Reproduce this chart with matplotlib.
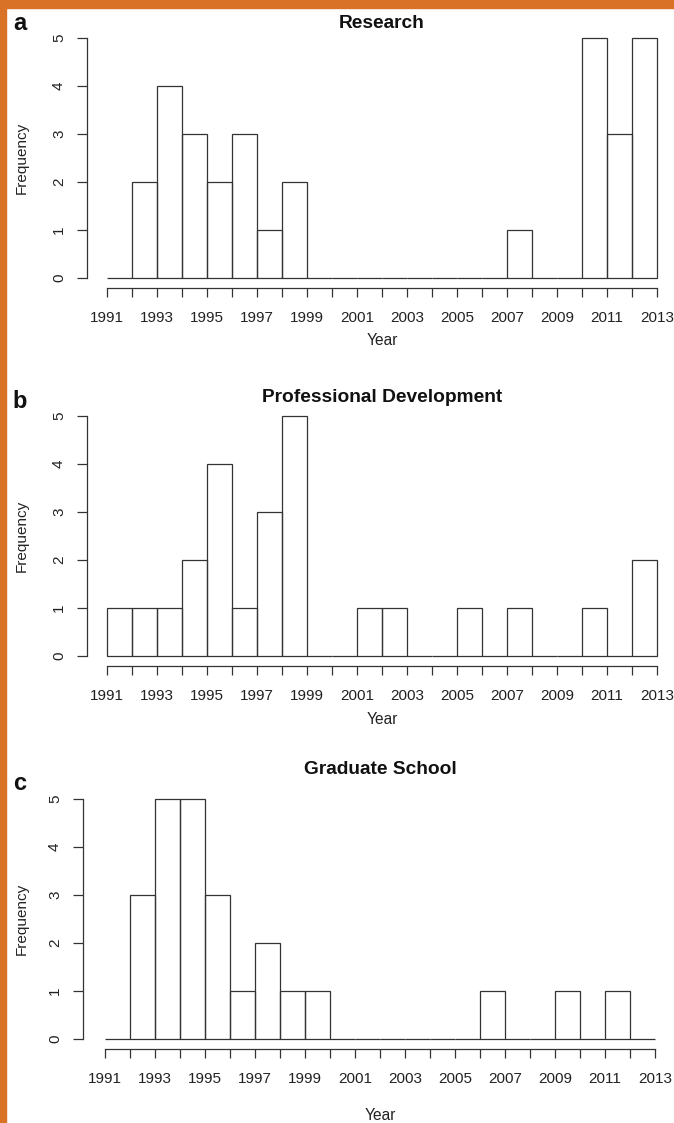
import numpy as np
import matplotlib
matplotlib.use('Agg')
import matplotlib.pyplot as plt
import matplotlib.patches as mpatches

# yearly counts, one bin per year from 1991 to 2013
edges = np.arange(1991, 2014)
research = [0, 2, 4, 3, 2, 3, 1, 2, 0, 0, 0, 0, 0, 0, 0, 0, 1, 0, 0, 5, 3, 5]
prof_dev = [1, 1, 1, 2, 4, 1, 3, 5, 0, 0, 1, 1, 0, 0, 1, 0, 1, 0, 0, 1, 0, 2]
grad_school = [0, 3, 5, 5, 3, 1, 2, 1, 1, 0, 0, 0, 0, 0, 0, 1, 0, 0, 1, 0, 1, 0]

titles = ['Research', 'Professional Development', 'Graduate School']
letters = ['a', 'b', 'c']
y_ticks = [0, 1, 2, 3, 4, 5]

W, H = 674, 1123
DPI = 100
FONT = ['Liberation Sans', 'DejaVu Sans']
LINE = '#333333'

def px2pt(p):
    return p * 72.0 / DPI

fig = plt.figure(figsize=(W / DPI, H / DPI), dpi=DPI)
fig.patch.set_facecolor('white')

# orange frame on the top and left edges
fig.patches.append(mpatches.Rectangle((0, 1 - 8 / H), 1, 8 / H, transform=fig.transFigure,
                                      color='#d97127', zorder=0))
fig.patches.append(mpatches.Rectangle((0, 0), 6 / W, 1, transform=fig.transFigure,
                                      color='#d97127', zorder=0))

# pixel layout of each panel: x of 1991, x of 2013, y of 0, y of 5, y-axis gap,
# title y, letter y, Year label y, Frequency label y
panels = [
    dict(x0=107, x1=657, y0=278, y5=38, ygap=20, ty=23, ly=24, xl=340, fy=158),
    dict(x0=107, x1=657, y0=656, y5=416, ygap=20, ty=398, ly=401, xl=720, fy=536),
    dict(x0=105, x1=655, y0=1039, y5=799, ygap=22, ty=770, ly=783, xl=1115, fy=919),
]
data = [research, prof_dev, grad_school]

for p, counts, title, letter in zip(panels, data, titles, letters):
    ax = fig.add_axes([p['x0'] / W, 1 - p['y0'] / H,
                       (p['x1'] - p['x0']) / W, (p['y0'] - p['y5']) / H])
    ax.set_xlim(edges[0], edges[-1])
    ax.set_ylim(0, 5)
    ax.patch.set_alpha(0)

    ax.bar(edges[:-1], counts, width=1, align='edge', fill=False,
           edgecolor=LINE, linewidth=0.9, clip_on=False)

    for s in ['top', 'right']:
        ax.spines[s].set_visible(False)
    ax.spines['left'].set_position(('outward', px2pt(p['ygap'])))
    ax.spines['left'].set_bounds(0, 5)
    ax.spines['bottom'].set_position(('outward', px2pt(10)))
    ax.spines['bottom'].set_bounds(edges[0], edges[-1])
    for s in ['left', 'bottom']:
        ax.spines[s].set_color(LINE)
        ax.spines[s].set_linewidth(0.9)

    ax.set_xticks(edges)
    ax.set_xticklabels([str(y) if (y - 1991) % 2 == 0 else '' for y in edges])
    ax.set_yticks(y_ticks)
    ax.tick_params(axis='x', length=px2pt(9), width=0.9, color=LINE, pad=px2pt(14),
                   labelsize=11, labelcolor='#222222')
    ax.tick_params(axis='y', length=px2pt(10), width=0.9, color=LINE, pad=px2pt(11),
                   labelsize=11, labelcolor='#222222', labelrotation=90)
    for lab in ax.get_xticklabels():
        lab.set_family(FONT)
    for lab in ax.get_yticklabels():
        lab.set_family(FONT)
        lab.set_va('center')

    xc = (p['x0'] + p['x1']) / 2
    fig.text(xc / W, 1 - p['ty'] / H, title, ha='center', va='center',
             fontsize=13.8, fontweight='bold', family=FONT, color='#111111')
    fig.text(20 / W, 1 - p['ly'] / H, letter, ha='center', va='center',
             fontsize=17, fontweight='bold', family=FONT, color='#111111')
    fig.text(xc / W, 1 - p['xl'] / H, 'Year', ha='center', va='center',
             fontsize=11.2, family=FONT, color='#222222')
    fig.text(22 / W, 1 - p['fy'] / H, 'Frequency', ha='center', va='center',
             rotation=90, fontsize=11, family=FONT, color='#222222')

fig.savefig('out.png', dpi=DPI)
